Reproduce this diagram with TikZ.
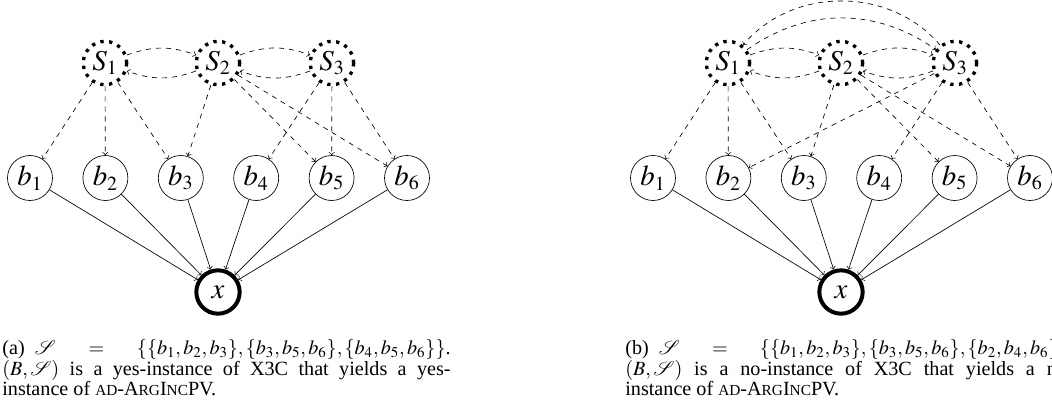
\documentclass[tikz,border=0pt]{standalone}
\usepackage{mathptmx}
\usepackage{mathrsfs}
\usepackage{fontspec}
\setmainfont{Liberation Serif}

\newcommand{\smcap}[1]{{\fontsize{9.2}{11}\selectfont #1}}
\newcommand{\probname}{\smcap{AD}-A\smcap{RG}I\smcap{NC}PV}

\tikzset{
  setnode/.style={circle, draw, line width=2pt, dash pattern=on 2pt off 3.3pt, minimum size=26pt, inner sep=0pt, font=\LARGE},
  elemnode/.style={circle, draw, thin, minimum size=27pt, inner sep=0pt, font=\LARGE},
  goalnode/.style={circle, draw, line width=2.4pt, minimum size=26pt, inner sep=0pt, font=\LARGE},
  member/.style={->, dashed},
  support/.style={->},
  caption/.style={anchor=base west, text width=269pt, align=justify, inner sep=0pt, font=\fontsize{12.1}{12}\selectfont}
}

\begin{document}
\begin{tikzpicture}[x=0.6pt, y=0.6pt]
  \useasboundingbox (0,0) rectangle (1052,409);

  % (a) yes-instance
  \begin{scope}
    \foreach \i/\px in {1/105,2/218,3/332}
      \node[setnode] (S\i) at (\px,346) {$S_\i$};
    \foreach \i in {1,...,6}
      \node[elemnode] (b\i) at ({30+75.4*(\i-1)},231) {$b_\i$};
    \node[goalnode] (x) at (218,117) {$x$};

    \draw[member] (S1) to[bend left=20] (S2);
    \draw[member] (S2) to[bend left=20] (S1);
    \draw[member] (S2) to[bend left=20] (S3);
    \draw[member] (S3) to[bend left=20] (S2);

    \foreach \s/\b in {1/1,1/2,1/3,2/3,2/5,2/6,3/4,3/5,3/6}
      \draw[member] (S\s) -- (b\b);
    \foreach \i in {1,...,6}
      \draw[support] (b\i) -- (x);

    \node[caption] (capyes) at (2,55) {(a)\enspace $\mathscr{S} = \{\{b_1,b_2,b_3\},\{b_3,b_5,b_6\},\{b_4,b_5,b_6\}\}$.\linebreak
      $(B,\mathscr{S})$ is a yes-instance of X3C that yields a yes-\linebreak
      instance of \probname.};
  \end{scope}

  % (b) no-instance
  \begin{scope}[shift={(623,0)}]
    \foreach \i/\px in {1/105,2/218,3/332}
      \node[setnode] (S\i) at (\px,346) {$S_\i$};
    \foreach \i in {1,...,6}
      \node[elemnode] (b\i) at ({30+75.4*(\i-1)},231) {$b_\i$};
    \node[goalnode] (x) at (218,117) {$x$};

    \draw[member] (S1) to[bend left=20] (S2);
    \draw[member] (S2) to[bend left=20] (S1);
    \draw[member] (S2) to[bend left=20] (S3);
    \draw[member] (S3) to[bend left=20] (S2);
    \draw[member] (S1) to[bend left=35] (S3);
    \draw[member] (S3) to[bend right=50] (S1);

    \foreach \s/\b in {1/1,1/2,1/3,2/3,2/5,2/6,3/2,3/4,3/6}
      \draw[member] (S\s) -- (b\b);
    \foreach \i in {1,...,6}
      \draw[support] (b\i) -- (x);

    \node[caption] (capno) at (2,55) {(b)\enspace $\mathscr{S} = \{\{b_1,b_2,b_3\},\{b_3,b_5,b_6\},\{b_2,b_4,b_6\}\}$.\linebreak
      $(B,\mathscr{S})$ is a no-instance of X3C that yields a no-\linebreak
      instance of \probname.};
  \end{scope}
\end{tikzpicture}
\end{document}
